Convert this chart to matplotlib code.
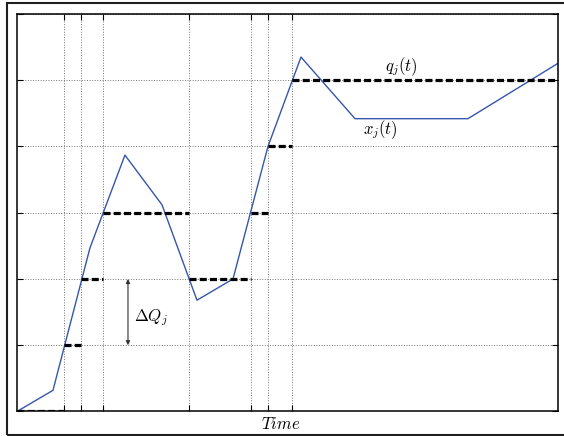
import numpy as np
import matplotlib.pyplot as plt
from matplotlib.patches import Rectangle

plt.rcParams['mathtext.fontset'] = 'cm'

# continuous state x_j(t), piecewise linear
t_x = [0, 6.65, 13.48, 19.94, 26.78, 33.24, 39.89, 46.35, 52.45, 62.42, 83.29, 100]
x_j = [0, 0.32, 2.47, 3.87, 3.12, 1.68, 2.0, 4.0, 5.35, 4.42, 4.42, 5.26]

# quantized state q_j(t), piecewise constant
t_q = [0, 8.68, 11.82, 15.88, 31.76, 43.21, 46.35, 50.78, 100]
q_j = [0, 1, 2, 3, 2, 3, 4, 5]

levels = [0, 1, 2, 3, 4, 5, 6]
dQ = 1.0

fig = plt.figure(figsize=(5.64, 4.36), dpi=100)
ax = fig.add_axes([0.0301, 0.0562, 0.9601, 0.9117])

ax.set_xlim(0, 100)
ax.set_ylim(0, 6)
ax.set_xticks(t_q[1:-1])
ax.set_yticks(levels)
ax.set_xticklabels([])
ax.set_yticklabels([])
ax.tick_params(direction='in', length=4, width=0.8, top=True, right=True)
ax.grid(True, linestyle=':', color='0.45', linewidth=0.7)
for s in ax.spines.values():
    s.set_linewidth(1.1)
    s.set_zorder(5)

ax.plot(t_x, x_j, color='#3556ac', linewidth=1.0, zorder=3)
ax.hlines(q_j, t_q[:-1], t_q[1:], colors='k', linewidth=2.3,
          linestyles=[(0, (2.2, 1.0))], zorder=4)

# quantum arrow
ax.annotate('', xy=(20.5, 1.0), xytext=(20.5, 1.0 + dQ),
            arrowprops=dict(arrowstyle='<|-|>', color='0.2', lw=0.8,
                            mutation_scale=6, shrinkA=0, shrinkB=0))
ax.text(21.6, 1.42, r'$\Delta Q_j$', fontsize=12, va='center', ha='left')
ax.text(68, 5.2, r'$q_j(t)$', fontsize=12, va='center', ha='left')
ax.text(63.9, 4.25, r'$x_j(t)$', fontsize=12, va='center', ha='left')
ax.text(0.4875, -0.008, r'$Time$', transform=ax.transAxes, fontsize=12,
        ha='center', va='top')

fig.patches.append(Rectangle((7 / 564, 0.7 / 436), 1.2, 431.8 / 436,
                             transform=fig.transFigure, fill=False,
                             edgecolor='0.12', linewidth=1.5))

fig.savefig('out.png', dpi=100)
